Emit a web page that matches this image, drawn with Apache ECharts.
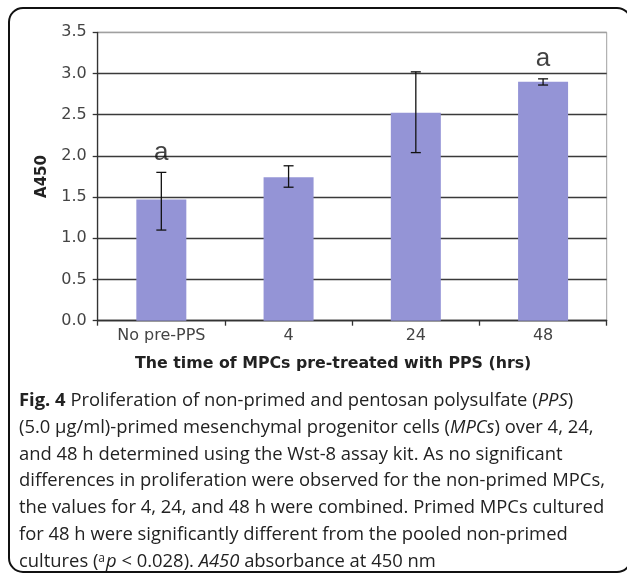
<!DOCTYPE html>
<html>
<head>
<meta charset="utf-8">
<script src="https://cdn.jsdelivr.net/npm/echarts@6/dist/echarts.min.js"></script>
<style>
html,body{margin:0;padding:0;background:#fff;}
#chart{width:627px;height:580px;}
</style>
</head>
<body>
<div id="chart"></div>
<script>
const categories = ['No pre-PPS', '4', '24', '48'];
const meanValues = [1.47, 1.74, 2.525, 2.90];
const errorLow = [1.10, 1.62, 2.04, 2.86];
const errorHigh = [1.80, 1.88, 3.02, 2.935];
const sigLabels = ['a', '', '', 'a'];
const yTicks = [0, 0.5, 1.0, 1.5, 2.0, 2.5, 3.0, 3.5];
const xTitle = 'The time of MPCs pre-treated with PPS (hrs)';
const yTitle = 'A450';

const chart = echarts.init(document.getElementById('chart'), null, {renderer: 'canvas'});

const capFont = '"Open Sans", sans-serif';
const FS = 18.4;
const capRich = {
  b: {fontFamily: capFont, fontSize: FS, fontWeight: 'bold', fill: '#222'},
  n: {fontFamily: capFont, fontSize: FS, fill: '#222'},
  i: {fontFamily: capFont, fontSize: FS, fontStyle: 'italic', fill: '#222'},
  sup: {fontFamily: capFont, fontSize: 12, fill: '#222', verticalAlign: 'top', padding: [0,1,8,0]}
};
const captionLines = [
  '{b|Fig. 4}{n| Proliferation of non-primed and pentosan polysulfate (}{i|PPS}{n|)}',
  '{n|(5.0 µg/ml)-primed mesenchymal progenitor cells (}{i|MPCs}{n|) over 4, 24,}',
  '{n|and 48 h determined using the Wst-8 assay kit. As no significant}',
  '{n|differences in proliferation were observed for the non-primed MPCs,}',
  '{n|the values for 4, 24, and 48 h were combined. Primed MPCs cultured}',
  '{n|for 48 h were significantly different from the pooled non-primed}',
  '{n|cultures (}{sup|a}{i|p}{n| < 0.028). }{i|A450}{n| absorbance at 450 nm}'
];
const graphics = [{
  type: 'rect',
  shape: {x: 9, y: 8, width: 622, height: 564, r: 14},
  style: {fill: 'none', stroke: '#111', lineWidth: 2},
  silent: true
}];
captionLines.forEach((t, k) => {
  graphics.push({
    type: 'text',
    left: 19,
    top: 392 + k * 26.7,
    style: {text: t, rich: capRich, fontFamily: capFont, fontSize: FS}
  });
});

const gridColors = yTicks.map((v, k) => k === yTicks.length - 1 ? '#a0a0a0' : '#3a3a3a');

chart.setOption({
  animation: false,
  backgroundColor: '#fff',
  grid: {left: 97.7, right: 20.3, top: 32.3, bottom: 259.3, show: true, borderColor: '#a0a0a0', borderWidth: 1, containLabel: false},
  xAxis: {
    type: 'category',
    data: categories,
    axisLine: {lineStyle: {color: '#333', width: 1.3}},
    axisTick: {show: true, length: 5, lineStyle: {color: '#333', width: 1.3}},
    axisLabel: {fontFamily: 'DejaVu Sans', fontSize: 16, color: '#444', margin: 7},
    name: xTitle,
    nameLocation: 'middle',
    nameGap: 35,
    nameTextStyle: {fontFamily: 'DejaVu Sans', fontWeight: 'bold', fontSize: 15.8, color: '#222', padding: [0, 38, 0, 0]}
  },
  yAxis: {
    type: 'value',
    min: 0, max: 3.5, interval: 0.5,
    axisLine: {show: true, lineStyle: {color: '#333', width: 1.3}},
    axisTick: {show: true, length: 5, lineStyle: {color: '#333', width: 1.3}},
    axisLabel: {fontFamily: 'DejaVu Sans', fontSize: 16, color: '#444', margin: 11, formatter: v => v.toFixed(1)},
    splitLine: {show: true, lineStyle: {color: gridColors, width: 1.3}},
    name: yTitle,
    nameLocation: 'middle',
    nameGap: 48,
    nameRotate: 90,
    nameTextStyle: {fontFamily: 'DejaVu Sans', fontWeight: 'bold', fontSize: 15, color: '#222'}
  },
  series: [{
    type: 'bar',
    data: meanValues,
    barWidth: 50,
    itemStyle: {color: '#9494d6'},
    z: 2
  }, {
    type: 'custom',
    data: categories.map((c, k) => [k, errorLow[k], errorHigh[k]]),
    renderItem: function (params, api) {
      const x = api.value(0);
      const lo = api.coord([x, api.value(1)]);
      const hi = api.coord([x, api.value(2)]);
      const hw = 5;
      const st = {stroke: '#111', lineWidth: 1.3};
      return {type: 'group', children: [
        {type: 'line', shape: {x1: lo[0], y1: lo[1], x2: hi[0], y2: hi[1]}, style: st},
        {type: 'line', shape: {x1: lo[0]-hw, y1: lo[1], x2: lo[0]+hw, y2: lo[1]}, style: st},
        {type: 'line', shape: {x1: hi[0]-hw, y1: hi[1], x2: hi[0]+hw, y2: hi[1]}, style: st}
      ]};
    },
    z: 3
  }, {
    type: 'scatter',
    data: errorHigh,
    symbolSize: 0,
    label: {
      show: true,
      position: 'top',
      distance: 7,
      formatter: p => sigLabels[p.dataIndex],
      fontFamily: 'Liberation Sans',
      fontSize: 26,
      color: '#111'
    },
    z: 4
  }],
  graphic: graphics
});
</script>
</body>
</html>
